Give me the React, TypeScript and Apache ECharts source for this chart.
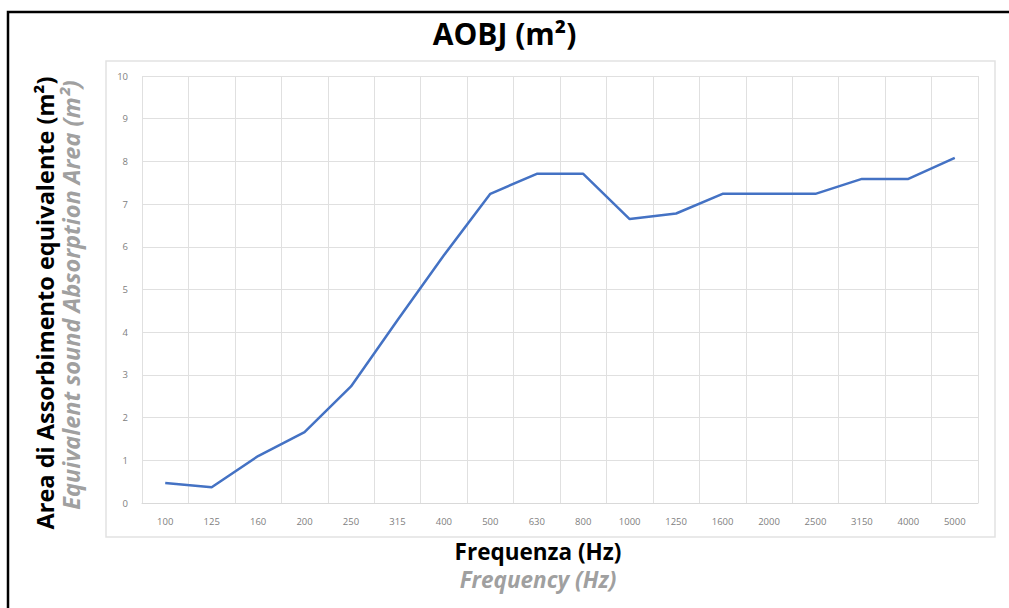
import React, { useEffect, useRef } from "react";
import * as echarts from "echarts";

const categories = ["100", "125", "160", "200", "250", "315", "400", "500", "630", "800", "1000", "1250", "1600", "2000", "2500", "3150", "4000", "5000"];
const aobjValues = [0.47, 0.37, 1.1, 1.66, 2.73, 4.28, 5.8, 7.24, 7.71, 7.71, 6.65, 6.78, 7.24, 7.24, 7.24, 7.59, 7.59, 8.08];
const yTicks = { min: 0, max: 10, interval: 1 };

const titleText = "AOBJ (m²)";
const yTitleIt = "Area di Assorbimento equivalente (m²)";
const yTitleEn = "Equivalent sound Absorption Area (m²)";
const xTitleIt = "Frequenza (Hz)";
const xTitleEn = "Frequency (Hz)";

export default function App() {
  const ref = useRef<HTMLDivElement>(null);
  useEffect(() => {
    if (!ref.current) return;
    const chart = echarts.init(ref.current, null, { renderer: "svg" });
    const font = "'Open Sans', 'Noto Sans', sans-serif";
    chart.setOption({
      animation: false,
      backgroundColor: "#ffffff",
      title: {
        text: titleText,
        left: "center",
        top: 13,
        textStyle: { fontFamily: font, fontWeight: "bold", fontSize: 30, color: "#000000" },
      },
      grid: { left: 142, top: 76, right: 31, bottom: 105, containLabel: false },
      xAxis: {
        type: "category",
        data: categories,
        boundaryGap: true,
        axisLine: { show: true, lineStyle: { color: "#d9d9d9", width: 1 } },
        axisTick: { show: false },
        splitLine: { show: true, lineStyle: { color: "#e0e0e0", width: 1 } },
        axisLabel: { color: "#808080", fontSize: 9.5, fontFamily: font, margin: 13, interval: 0 },
      },
      yAxis: {
        type: "value",
        min: yTicks.min,
        max: yTicks.max,
        interval: yTicks.interval,
        axisLine: { show: false },
        axisTick: { show: false },
        splitLine: { show: true, lineStyle: { color: "#e0e0e0", width: 1 } },
        axisLabel: { color: "#808080", fontSize: 9.5, fontFamily: font, margin: 14 },
      },
      series: [
        {
          type: "line",
          data: aobjValues,
          showSymbol: false,
          symbol: "none",
          lineStyle: { color: "#4472c4", width: 2.5 },
          itemStyle: { color: "#4472c4" },
        },
      ],
      graphic: [
        {
          type: "rect",
          z: -1,
          shape: { x: 8, y: 12, width: 1010, height: 620 },
          style: { fill: "none", stroke: "#000000", lineWidth: 2.5 },
        },
        {
          type: "rect",
          z: -1,
          shape: { x: 106, y: 61, width: 889, height: 476 },
          style: { fill: "none", stroke: "#e2e2e2", lineWidth: 1.5 },
        },
        {
          type: "text",
          x: 538,
          y: 551,
          style: {
            text: xTitleIt,
            align: "center",
            verticalAlign: "middle",
            font: "bold 22.5px 'Open Sans', sans-serif",
            fill: "#000000",
          },
        },
        {
          type: "text",
          x: 538,
          y: 579,
          style: {
            text: xTitleEn,
            align: "center",
            verticalAlign: "middle",
            font: "italic bold 22.5px 'Open Sans', sans-serif",
            fill: "#a0a0a0",
          },
        },
        {
          type: "text",
          x: 45,
          y: 303,
          rotation: Math.PI / 2,
          style: {
            text: yTitleIt,
            align: "center",
            verticalAlign: "middle",
            font: "bold 23.5px 'Open Sans', sans-serif",
            fill: "#000000",
          },
        },
        {
          type: "text",
          x: 71,
          y: 295,
          rotation: Math.PI / 2,
          style: {
            text: yTitleEn,
            align: "center",
            verticalAlign: "middle",
            font: "italic bold 23.5px 'Open Sans', sans-serif",
            fill: "#a0a0a0",
          },
        },
      ],
    });
    return () => chart.dispose();
  }, []);
  return (
    <div
      ref={ref}
      style={{ position: "fixed", left: 0, top: 0, width: 1009, height: 608 }}
    />
  );
}
